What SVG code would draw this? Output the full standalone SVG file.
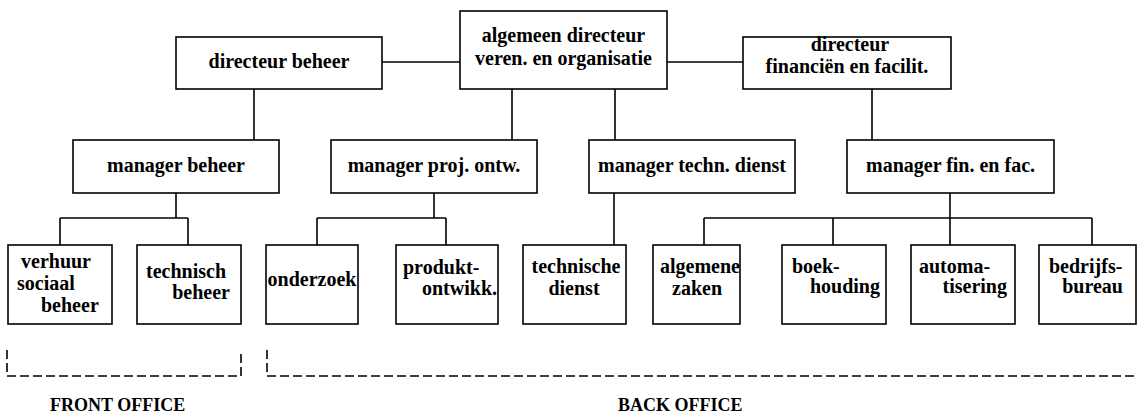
<svg xmlns="http://www.w3.org/2000/svg" width="1138" height="418" viewBox="0 0 1138 418">
<style>
.box{fill:#fff;stroke:#000;stroke-width:1.6}
.ln{fill:none;stroke:#000;stroke-width:1.6}
.dash{fill:none;stroke:#000;stroke-width:1.6;stroke-dasharray:9 4}
text{font-family:"Liberation Serif","Times New Roman",serif;font-weight:bold;font-size:20px;fill:#000}
.c{text-anchor:middle}
.e{text-anchor:end}
.lab{font-size:18px}
</style>
<rect width="1138" height="418" fill="#fff"/>
<g id="connectors">
<path class="ln" d="M382,62H460M667,62H743"/>
<path class="ln" d="M254,89V140M512,89V140M615,89V140M872,89V140"/>
<path class="ln" d="M176,193V218M60,218H188M60,218V245M188,218V245"/>
<path class="ln" d="M434,193V218M317,218H446M317,218V245M446,218V245"/>
<path class="ln" d="M614,193V245"/>
<path class="ln" d="M950,193V218M704,218H1092M704,218V245M833,218V245M950,218V245M1092,218V245"/>
</g>
<g id="dir-beheer"><rect class="box" x="176" y="37" width="206" height="52"/><text class="c" x="279" y="68">directeur beheer</text></g>
<g id="alg-dir"><rect class="box" x="460" y="11" width="207" height="78"/><text class="c" x="563.5" y="42">algemeen directeur</text><text class="c" x="563.5" y="65">veren. en organisatie</text></g>
<g id="dir-fin"><rect class="box" x="743" y="37" width="208" height="52"/><text class="c" x="850" y="51">directeur</text><text class="c" x="847" y="73">financiën en facilit.</text></g>
<g id="man-beheer"><rect class="box" x="73" y="140" width="206" height="53"/><text class="c" x="176" y="172">manager beheer</text></g>
<g id="man-proj"><rect class="box" x="331" y="140" width="206" height="53"/><text class="c" x="434" y="172">manager proj. ontw.</text></g>
<g id="man-techn"><rect class="box" x="589" y="140" width="206" height="53"/><text class="c" x="692" y="172">manager techn. dienst</text></g>
<g id="man-fin"><rect class="box" x="847" y="140" width="207" height="53"/><text class="c" x="950.5" y="172">manager fin. en fac.</text></g>
<g id="verhuur"><rect class="box" x="8" y="245" width="104" height="79"/><text x="21" y="268">verhuur</text><text x="17" y="290">sociaal</text><text x="41" y="312">beheer</text></g>
<g id="techn-beheer"><rect class="box" x="137" y="245" width="104" height="79"/><text x="146" y="278">technisch</text><text class="e" x="230" y="299">beheer</text></g>
<g id="onderzoek"><rect class="box" x="266" y="245" width="92" height="79"/><text class="c" x="312" y="286">onderzoek</text></g>
<g id="produkt"><rect class="box" x="396" y="245" width="102" height="79"/><text x="403" y="274">produkt-</text><text class="e" x="497" y="295">ontwikk.</text></g>
<g id="techn-dienst"><rect class="box" x="523" y="245" width="103" height="79"/><text class="c" x="576" y="273">technische</text><text class="c" x="574" y="295">dienst</text></g>
<g id="alg-zaken"><rect class="box" x="653" y="245" width="87" height="79"/><text class="c" x="700" y="273">algemene</text><text class="c" x="697" y="295">zaken</text></g>
<g id="boekhouding"><rect class="box" x="782" y="245" width="104" height="79"/><text x="792" y="273">boek-</text><text class="e" x="880" y="293">houding</text></g>
<g id="automatisering"><rect class="box" x="911" y="245" width="104" height="79"/><text x="919" y="273">automa-</text><text class="e" x="1007" y="293">tisering</text></g>
<g id="bedrijfsbureau"><rect class="box" x="1039" y="245" width="97" height="79"/><text x="1049" y="273">bedrijfs-</text><text class="e" x="1123" y="293">bureau</text></g>
<g id="front-office"><path class="dash" d="M7,350V376H241V350"/><text class="lab" x="50" y="411">FRONT OFFICE</text></g>
<g id="back-office"><path class="dash" d="M267,350V376H1136"/><text class="lab" x="618" y="411">BACK OFFICE</text></g>
</svg>
